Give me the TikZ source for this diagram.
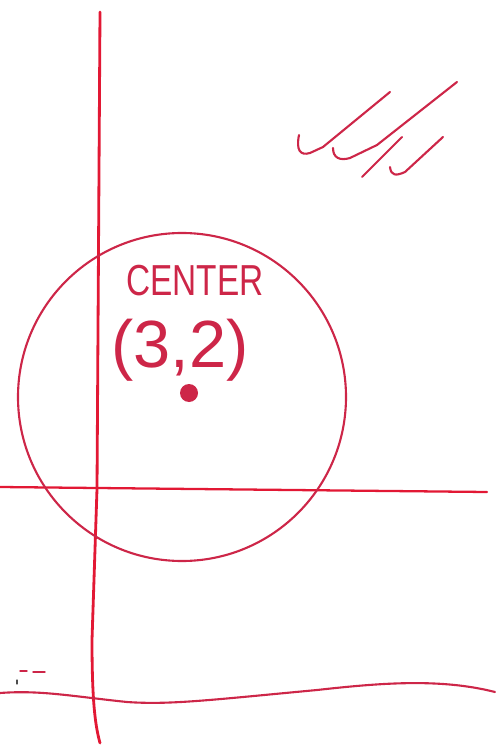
\documentclass[tikz,border=0pt]{standalone}
\usepackage{fontspec}
\setsansfont{Liberation Sans}

\definecolor{penred}{RGB}{226,24,52}
\definecolor{inkred}{RGB}{205,38,72}

\begin{document}
\begin{tikzpicture}[
    x=0.02cm, y=-0.02cm,
    axis/.style={penred, line width=1.6pt, line cap=round},
    pen/.style={inkred, line width=1.2pt, line cap=round, line join=round},
    label/.style={inkred, font=\sffamily, inner sep=0pt}
]
\useasboundingbox (0,0) rectangle (495,749);

% axes
\draw[axis] (100,12) -- (97,489) -- (92,640) .. controls (92,700) and (95,725) .. (100,743);
\draw[axis, line width=1.3pt] (0,487) -- (487,492);

% circle round the centre
\coordinate (ctr) at (182,397);
\draw[pen] (ctr) circle[radius=164];
\fill[inkred] (189,393) circle[radius=9];

\node[label, font=\sffamily\fontsize{19}{19}\selectfont, yscale=1.3] (cap) at (195,281) {CENTER};
\node[label, font=\sffamily\fontsize{38}{38}\selectfont] (pt) at (180,350) {(3,2)};

% scribbles top right
\draw[pen] (299,135) .. controls (296,150) and (300,156) .. (310,153) -- (323,147) -- (390,92);
\draw[pen] (333,148) .. controls (333,158) and (340,161) .. (350,158) -- (377,145) -- (457,82);
\draw[pen] (402,137) -- (362,177);
\draw[pen] (390,167) .. controls (391,176) and (396,176) .. (405,172) -- (443,137);

% bottom line and marks
\draw[pen] (0,693) .. controls (40,690) and (70,696) .. (127,702)
    .. controls (170,705) and (210,700) .. (317,690)
    .. controls (380,683) and (440,678) .. (495,692);
\draw[pen, line width=0.8pt] (20,671) -- (27,671) (33,672) -- (45,672);
\draw[pen, black!70, line width=0.6pt] (17,680) -- (17,684);
\end{tikzpicture}
\end{document}
